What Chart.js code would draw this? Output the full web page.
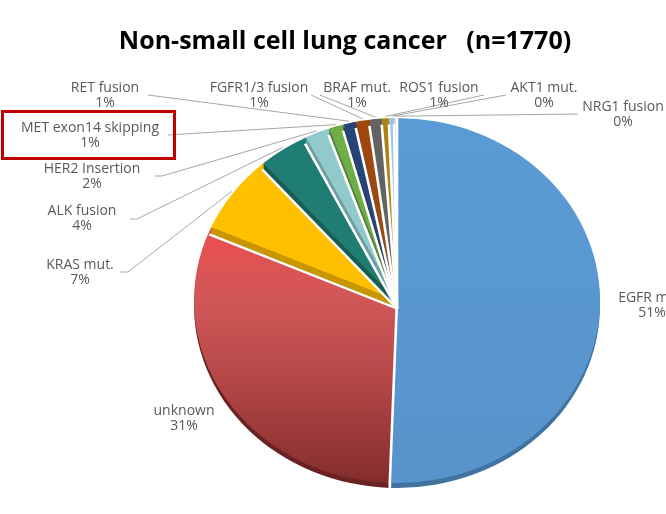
<!DOCTYPE html>
<html><head><meta charset="utf-8">
<script src="https://cdn.jsdelivr.net/npm/chart.js@4.4.1/dist/chart.umd.min.js"></script>
<style>html,body{margin:0;padding:0;background:#fff;overflow:hidden}#wrap{width:666px;height:514px;position:relative}</style>
</head><body><div id="wrap"><canvas id="c" width="666" height="514"></canvas></div>
<script>
// ---- data ----
const categories = ['EGFR mut.', 'unknown', 'KRAS mut.', 'ALK fusion', 'HER2 Insertion', 'MET exon14 skipping', 'RET fusion', 'FGFR1/3 fusion', 'BRAF mut.', 'ROS1 fusion', 'AKT1 mut.', 'NRG1 fusion'];
const patientCounts = [895, 549, 124, 71, 35, 21, 18, 19, 17, 10, 7, 4];
const titleText = 'Non-small cell lung cancer   (n=1770)';

// ---- styles ----
const faceColors = ['#5B9BD5', '#D05555', '#FFC000', '#1F7D74', '#92C9CB', '#70AD47', '#264478', '#9E480E', '#636363', '#AD8311', '#9DC3E6', '#CFCFCF'];
const sideColors = ['#42729F', '#6A2222', '#C89600', '#155E58', '#6F9EA3', '#4F7D32', '#1A3157', '#6F320A', '#454545', '#7D5E0A', '#7393B0', '#999999'];
const SY = 182.5 / 203;   // vertical squash of the tilted pie
const SIDE = 5;            // visible side depth
const BAND = 8;            // cut-face band depth

// label layout: text centre (x, first line y), leader start, optional elbow
const labelLayout = [
  {x: 652, y: 298},
  {x: 184, y: 411},
  {x: 80, y: 265, start: [120, 272], elbow: [128, 272]},
  {x: 82, y: 211, start: [130, 219], elbow: [137, 219]},
  {x: 92, y: 169, start: [155, 176], elbow: [162, 176]},
  {x: 90, y: 128, start: [168, 135]},
  {x: 105, y: 88, start: [148, 95]},
  {x: 259, y: 88, start: [311, 95]},
  {x: 357, y: 88, start: [320, 95]},
  {x: 439, y: 88, start: [484, 95]},
  {x: 544, y: 88, start: [506, 95]},
  {x: 623, y: 107, start: [578, 114]}
];

function arcPath(ctx, cx, cy, r, a0, a1) {
  ctx.beginPath(); ctx.moveTo(cx, cy); ctx.arc(cx, cy, r, a0, a1); ctx.closePath();
}
function separators(ctx, arcs, cx, cy, dy, onlyUpperLeft) {
  ctx.strokeStyle = '#fff'; ctx.lineWidth = 2.6;
  arcs.forEach(a => {
    const ang = a.startAngle;
    const dx = Math.cos(ang), dyy = Math.sin(ang);
    const ul = dx < -0.01 && dyy < -0.01;
    const off = (onlyUpperLeft && ul) ? BAND / SY : 0;
    ctx.beginPath();
    ctx.moveTo(cx, cy + dy + off);
    ctx.lineTo(cx + dx * (a.outerRadius + 2), cy + dy + off + dyy * (a.outerRadius + 2));
    ctx.stroke();
  });
}

const pie3d = {
  id: 'pie3d',
  beforeDatasetsDraw(chart) {
    const ctx = chart.ctx;
    const arcs = chart.getDatasetMeta(0).data;
    const cx = arcs[0].x, cy = arcs[0].y;
    ctx.save();
    ctx.translate(0, cy); ctx.scale(1, SY); ctx.translate(0, -cy);
    // side layer
    ctx.save();
    ctx.translate(0, SIDE / SY);
    arcs.forEach((a, i) => { arcPath(ctx, cx, cy, a.outerRadius, a.startAngle, a.endAngle); ctx.fillStyle = sideColors[i]; ctx.fill(); });
    separators(ctx, arcs, cx, cy, 0, false);
    ctx.restore();
  },
  afterDatasetsDraw(chart) {
    const ctx = chart.ctx;
    const arcs = chart.getDatasetMeta(0).data;
    const cx = arcs[0].x, cy = arcs[0].y;
    const R = arcs[0].outerRadius;
    // cut-face bands for upper-left boundaries
    ctx.save();
    ctx.beginPath(); ctx.arc(cx, cy, R, 0, Math.PI * 2); ctx.clip();
    const D = BAND / SY;
    arcs.forEach((a, i) => {
      const ang = a.startAngle, dx = Math.cos(ang), dy = Math.sin(ang);
      if (!(dx < -0.01 && dy < -0.01)) return;
      const ex = cx + dx * R, ey = cy + dy * R;
      ctx.beginPath();
      ctx.moveTo(cx, cy); ctx.lineTo(ex, ey); ctx.lineTo(ex, ey + D); ctx.lineTo(cx, cy + D); ctx.closePath();
      ctx.fillStyle = sideColors[i]; ctx.fill();
    });
    ctx.restore();
    separators(ctx, arcs, cx, cy, 0, true);
    ctx.restore();
  },
  afterDraw(chart) {
    const ctx = chart.ctx;
    const arcs = chart.getDatasetMeta(0).data;
    const cx = arcs[0].x, cy = arcs[0].y;
    const total = patientCounts.reduce((s, v) => s + v, 0);
    ctx.save();
    // title
    ctx.fillStyle = '#000';
    ctx.font = 'bold 25px "Open Sans", sans-serif';
    ctx.textAlign = 'center'; ctx.textBaseline = 'middle';
    ctx.fillText(titleText, 345, 42);
    // leader lines
    ctx.strokeStyle = '#A6A6A6'; ctx.lineWidth = 1;
    labelLayout.forEach((L, i) => {
      if (!L.start) return;
      const a = arcs[i];
      const m = (a.startAngle + a.endAngle) / 2;
      const r = a.outerRadius + 2;
      const px = cx + Math.cos(m) * r, py = cy + Math.sin(m) * r * SY;
      ctx.beginPath();
      ctx.moveTo(L.start[0], L.start[1]);
      if (L.elbow) ctx.lineTo(L.elbow[0], L.elbow[1]);
      ctx.lineTo(px, py);
      ctx.stroke();
    });
    // labels
    ctx.fillStyle = '#595959';
    ctx.font = '14px "Open Sans", sans-serif';
    labelLayout.forEach((L, i) => {
      const pct = Math.round(patientCounts[i] / total * 100) + '%';
      ctx.fillText(categories[i], L.x, L.y);
      ctx.fillText(pct, L.x, L.y + 15);
    });
    // highlight box
    ctx.strokeStyle = '#C00000'; ctx.lineWidth = 3;
    ctx.strokeRect(2.5, 111.5, 172, 47);
    ctx.restore();
  }
};

const ctx = document.getElementById('c').getContext('2d');
new Chart(ctx, {
  type: 'pie',
  data: {
    labels: categories,
    datasets: [{
      data: patientCounts,
      borderWidth: 0,
      clip: false,
      backgroundColor: function (c) {
        const chart = c.chart, i = c.dataIndex;
        const area = chart.chartArea;
        if (!area) return faceColors[i];
        const cy = (area.top + area.bottom) / 2, R = 203;
        if (i === 1) {
          const g = chart.ctx.createLinearGradient(0, cy - R, 0, cy + R);
          g.addColorStop(0.3, '#EC4E50');
          g.addColorStop(0.5, '#D15757');
          g.addColorStop(0.72, '#B44747');
          g.addColorStop(0.9, '#963636');
          g.addColorStop(1, '#832C2C');
          return g;
        }
        if (i === 0) {
          const g = chart.ctx.createLinearGradient(0, cy - R, 0, cy + R);
          g.addColorStop(0, '#5B9BD5');
          g.addColorStop(1, '#5893CB');
          return g;
        }
        return faceColors[i];
      }
    }]
  },
  options: {
    responsive: false,
    animation: false,
    events: [],
    radius: 203,
    layout: {padding: {left: 194, right: 66, top: 97.5, bottom: 10.5}},
    plugins: {legend: {display: false}, tooltip: {enabled: false}, title: {display: false}}
  },
  plugins: [pie3d]
});
</script>
</body></html>
